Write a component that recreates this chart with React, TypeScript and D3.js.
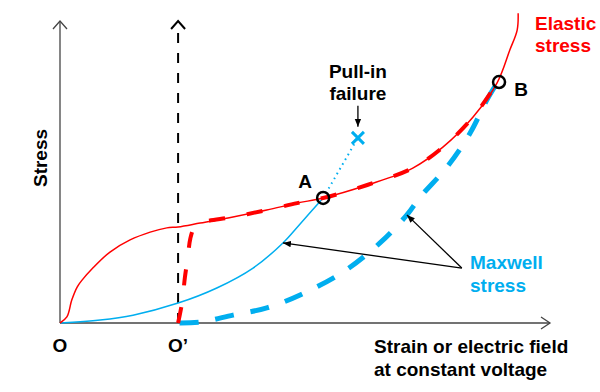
import React from "react";
import * as d3 from "d3";

// curves in data units (strain 0..100, stress 0..100)
const elastic: [number, number][] = [
  [0, 0], [1.4, 2.0], [2.4, 7.6], [3.5, 11.9], [4.5, 14.2], [6.7, 18.2], [10.2, 23.5],
  [14.3, 27.5], [18.4, 30.1], [21.8, 31.5], [24.1, 31.8], [28.6, 33.1], [35.3, 35.1],
  [42.2, 37.4], [48.4, 39.7], [53.7, 41.4], [62.7, 45.7], [72.0, 51.3], [78.2, 58.3],
  [84.3, 68.2], [89.2, 79.5], [91.8, 90.4], [93.3, 97.0], [93.5, 102.6],
];
const elasticShifted: [number, number][] = [
  [24.1, 0], [24.9, 6.6], [25.5, 15.2], [26.1, 22.0], [26.6, 28.0], [27.4, 31.6], [28.6, 33.1],
  [35.3, 35.1], [42.2, 37.4], [48.4, 39.7], [53.7, 41.4], [62.7, 45.7], [72.0, 51.3],
  [78.2, 58.3], [84.3, 68.2], [89.2, 79.5],
];
const maxwell: [number, number][] = [
  [0, 0], [8.2, 1.0], [14.9, 2.6], [24.1, 6.6], [32.0, 11.6], [39.4, 18.2], [45.5, 26.5],
  [49.0, 32.8], [53.7, 41.4],
];
const pullIn: [number, number][] = [[53.7, 41.4], [57.3, 51.5], [60.8, 61.3]];
const maxwellShifted: [number, number][] = [
  [24.4, 0], [28.6, 0.3], [35.3, 2.6], [42.2, 5.0], [49.0, 9.3], [57.8, 16.9], [65.3, 26.5],
  [70.8, 35.8], [73.5, 41.7], [79.0, 51.7], [83.7, 62.9], [87.1, 73.8], [89.2, 79.5],
];
const pointA: [number, number] = [53.7, 41.4];
const pointB: [number, number] = [89.6, 79.8];
const failure: [number, number] = [60.8, 61.3];
const originShift = 24.1;
const maxwellArrowFrom: [number, number] = [82.0, 18.2];
const maxwellArrowTo: [number, number][] = [[45.5, 26.5], [70.8, 35.8]];

const RED = "#ff0000";
const BLUE = "#00aeef";
const FONT = "'Liberation Sans', Arial, sans-serif";

export default function App() {
  const width = 600, height = 392;
  const x = d3.scaleLinear().domain([0, 100]).range([60, 550]);
  const y = d3.scaleLinear().domain([0, 100]).range([323, 21]);
  const line = d3.line<[number, number]>().x(d => x(d[0])).y(d => y(d[1])).curve(d3.curveCatmullRom);
  const straight = d3.line<[number, number]>().x(d => x(d[0])).y(d => y(d[1]));

  const x0 = x(0), y0 = y(0), yTop = y(100);
  const xs = x(originShift);
  const xEnd = x(100);
  const fx = x(failure[0]), fy = y(failure[1]);

  const txt = { fontFamily: FONT, fontWeight: 700, fontSize: 19 } as const;

  return (
    <svg width={width} height={height} style={{ position: "absolute", left: 0, top: 0, background: "#fff" }}>
      <defs>
        <marker id="head" viewBox="0 0 10 10" refX="10" refY="5" markerWidth="8" markerHeight="8" orient="auto" markerUnits="userSpaceOnUse">
          <path d="M0,1 L10,5 L0,9 Z" fill="#000" />
        </marker>
      </defs>

      {/* axes */}
      <line x1={x0} y1={y0} x2={x0} y2={yTop} stroke="#444" strokeWidth={1.3} />
      <path d={`M${x0 - 7},${yTop + 8}L${x0},${yTop}L${x0 + 7},${yTop + 8}`} fill="none" stroke="#444" strokeWidth={1.3} />
      <line x1={x0} y1={y0} x2={xEnd} y2={y0} stroke="#444" strokeWidth={1.3} />
      <path d={`M${xEnd - 9},${y0 - 6}L${xEnd},${y0}L${xEnd - 9},${y0 + 6}`} fill="none" stroke="#444" strokeWidth={1.3} />

      {/* shifted origin axis */}
      <line x1={xs} y1={y0} x2={xs} y2={yTop + 3} stroke="#000" strokeWidth={2} strokeDasharray="10,10" />
      <path d={`M${xs - 7},${yTop + 8}L${xs},${yTop}L${xs + 7},${yTop + 8}`} fill="none" stroke="#000" strokeWidth={2} />

      {/* curves */}
      <path d={line(maxwell)!} fill="none" stroke={BLUE} strokeWidth={1.5} />
      <path d={straight(pullIn)!} fill="none" stroke={BLUE} strokeWidth={2} strokeDasharray="1.5,4" />
      <path d={line(maxwellShifted)!} fill="none" stroke={BLUE} strokeWidth={5} strokeDasharray="19,17" />
      <path d={line(elastic)!} fill="none" stroke={RED} strokeWidth={1.5} />
      <path d={line(elasticShifted)!} fill="none" stroke={RED} strokeWidth={4} strokeDasharray="16,22" />

      {/* failure cross */}
      <path d={`M${fx - 6},${fy - 6}L${fx + 6},${fy + 6}M${fx - 6},${fy + 6}L${fx + 6},${fy - 6}`} stroke={BLUE} strokeWidth={3} />
      <line x1={fx} y1={fy - 32} x2={fx} y2={fy - 11} stroke="#000" strokeWidth={1.3} markerEnd="url(#head)" />

      {/* points */}
      {[pointA, pointB].map((p, i) => (
        <circle key={i} cx={x(p[0])} cy={y(p[1])} r={6} fill="none" stroke="#000" strokeWidth={2.5} />
      ))}

      {/* maxwell arrows */}
      {maxwellArrowTo.map((p, i) => (
        <line key={i} x1={x(maxwellArrowFrom[0])} y1={y(maxwellArrowFrom[1])} x2={x(p[0])} y2={y(p[1])}
          stroke="#000" strokeWidth={1.3} markerEnd="url(#head)" />
      ))}

      {/* labels */}
      <text {...txt} x={x(pointA[0]) - 18} y={y(pointA[1]) - 10} textAnchor="middle">A</text>
      <text {...txt} x={x(pointB[0]) + 22} y={y(pointB[1]) + 14} textAnchor="middle">B</text>
      <text {...txt} x={fx} y={78} textAnchor="middle">Pull-in</text>
      <text {...txt} x={fx} y={100} textAnchor="middle">failure</text>
      <text {...txt} x={535} y={30} fill={RED}>Elastic</text>
      <text {...txt} x={535} y={52} fill={RED}>stress</text>
      <text {...txt} x={470} y={269} fill={BLUE}>Maxwell</text>
      <text {...txt} x={470} y={292} fill={BLUE}>stress</text>
      <text {...txt} x={x0} y={352} textAnchor="middle">O</text>
      <text {...txt} x={xs} y={352} textAnchor="middle">O’</text>
      <text {...txt} x={374} y={353}>Strain or electric field</text>
      <text {...txt} x={374} y={376}>at constant voltage</text>
      <text {...txt} transform={`translate(47,158) rotate(-90)`} textAnchor="middle">Stress</text>
    </svg>
  );
}
